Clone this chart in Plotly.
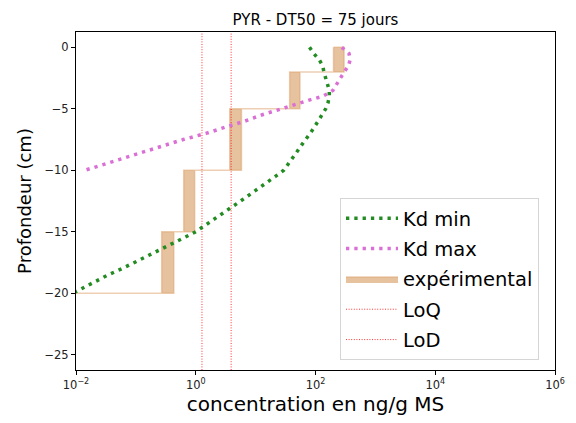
import plotly.graph_objects as go

# ---------------- data ----------------
title_text = "PYR - DT50 = 75 jours"

# experimental layers (depth in cm, concentration range in ng/g MS)
exp_top = [0, -2, -5, -10, -15]
exp_bottom = [-2, -5, -10, -15, -20]
exp_min = [200, 37, 3.7, 0.63, 0.27]
exp_max = [300, 55, 5.8, 0.96, 0.43]
exp_floor = 1e-4  # below-LoD bottom layer (drawn off-scale to the left)

# Kd min model profile
kdmin_depth = [0, -0.5, -1, -1.5, -2, -2.5, -3, -3.5, -4, -4.5, -5, -5.5, -6, -6.5,
               -7, -7.5, -8, -8.5, -9, -9.5, -10, -10.5, -11, -11.5, -12, -12.5,
               -13, -13.5, -14, -14.5, -15, -15.5, -16, -16.5, -17, -17.5, -18,
               -18.5, -19, -19.5, -20]
kdmin_conc = [79.4, 93.3, 115, 132, 138, 148, 158, 170, 170, 162, 148, 129, 112, 95.5,
              81.3, 67.6, 57.5, 49.0, 41.7, 34.7, 29.5, 21.4, 15.1, 11.0, 7.94, 5.62,
              3.98, 2.82, 1.91, 1.41, 1.0, 0.631, 0.398, 0.245, 0.151, 0.0955, 0.0589,
              0.0347, 0.0224, 0.0141, 0.00891]

# Kd max model profile
kdmax_depth = [0, -0.5, -1, -1.5, -2, -2.5, -3, -3.5, -3.75, -4, -4.25, -4.5, -5,
               -5.5, -6, -6.5, -7, -7.5, -8, -8.5, -9, -9.5, -10]
kdmax_conc = [275, 363, 380, 355, 302, 263, 229, 195, 162, 129, 83.2, 55.0, 26.9,
              12.6, 6.61, 3.09, 1.48, 0.617, 0.288, 0.138, 0.0631, 0.0295, 0.0141]

LoQ = 3.9
LoD = 1.27

x_tickvals = [1e-2, 1e0, 1e2, 1e4, 1e6]
x_ticktext = ["10<sup>−2</sup>", "10<sup>0</sup>", "10<sup>2</sup>",
              "10<sup>4</sup>", "10<sup>6</sup>"]
y_tickvals = [0, -5, -10, -15, -20, -25]
y_range = [-26.25, 1.25]
x_range_log = [-2, 6]

# ---------------- build polygon for experimental band ----------------
px, py = [], []
for lo, top, bot in zip(exp_min, exp_top, exp_bottom):
    px += [lo, lo]
    py += [top, bot]
px.append(exp_floor); py.append(exp_bottom[-1])
for hi, top, bot in reversed(list(zip(exp_max, exp_top, exp_bottom))):
    px += [hi, hi]
    py += [bot, top]
px.append(exp_min[0]); py.append(exp_top[0])

fig = go.Figure()

fig.add_trace(go.Scatter(
    x=px, y=py, mode="lines", fill="toself",
    fillcolor="rgba(205,133,63,0.5)",
    line=dict(color="rgba(222,160,105,0.5)", width=1.5),
    name="expérimental", legendrank=3, legendgroup="c",
))
fig.add_trace(go.Scatter(
    x=[LoQ, LoQ], y=y_range, mode="lines",
    line=dict(color="rgba(255,0,0,0.8)", width=1, dash="1px,1.6px"),
    name="LoQ", legendrank=4, legendgroup="d",
))
fig.add_trace(go.Scatter(
    x=[LoD, LoD], y=y_range, mode="lines",
    line=dict(color="rgba(255,0,0,0.8)", width=1, dash="1px,1.6px"),
    name="LoD", legendrank=5, legendgroup="e",
))
fig.add_trace(go.Scatter(
    x=kdmin_conc, y=kdmin_depth, mode="lines",
    line=dict(color="forestgreen", width=3.5, dash="3.3px,5px"),
    name="Kd min", legendrank=1, legendgroup="a",
))
fig.add_trace(go.Scatter(
    x=kdmax_conc, y=kdmax_depth, mode="lines",
    line=dict(color="orchid", width=3.5, dash="3.3px,5px"),
    name="Kd max", legendrank=2, legendgroup="b",
))

font_family = "DejaVu Sans"
fig.update_layout(
    width=576, height=423,
    margin=dict(l=76, r=21, t=32, b=53, autoexpand=False),
    paper_bgcolor="white", plot_bgcolor="white",
    font=dict(family=font_family, color="black"),
    title=dict(text=title_text, x=(76 + 555) / 2 / 576, xanchor="center",
               y=1 - 19.5 / 423, yanchor="middle",
               font=dict(size=15, family=font_family, color="black")),
    showlegend=True,
    legend=dict(
        x=(340 - 76) / 479, y=(370 - 198) / 338, xanchor="left", yanchor="top",
        font=dict(size=19.5, family=font_family, color="black"),
        bgcolor="rgba(255,255,255,0.8)", bordercolor="#d5d5d5", borderwidth=1,
        tracegroupgap=2, itemwidth=52,
    ),
)
fig.update_xaxes(
    type="log", range=x_range_log, automargin=False,
    tickvals=x_tickvals, ticktext=x_ticktext,
    showgrid=False, zeroline=False,
    showline=True, linecolor="black", linewidth=1, mirror=True,
    ticks="outside", ticklen=4, tickcolor="black",
    tickfont=dict(size=11.5, family=font_family, color="#222"),
    title=dict(text="concentration en ng/g MS", standoff=6,
               font=dict(size=20, family=font_family, color="black")),
)
fig.update_yaxes(
    range=y_range, tickvals=y_tickvals, automargin=False,
    showgrid=False, zeroline=False,
    showline=True, linecolor="black", linewidth=1, mirror=True,
    ticks="outside", ticklen=4, tickcolor="black",
    tickfont=dict(size=11.5, family=font_family, color="#222"),
    title=dict(text="Profondeur (cm)", standoff=8,
               font=dict(size=18, family=font_family, color="black")),
)

fig.write_html("out.html",
               config={"displayModeBar": False},
               post_script="document.body.style.margin='0';document.body.style.padding='0';")
